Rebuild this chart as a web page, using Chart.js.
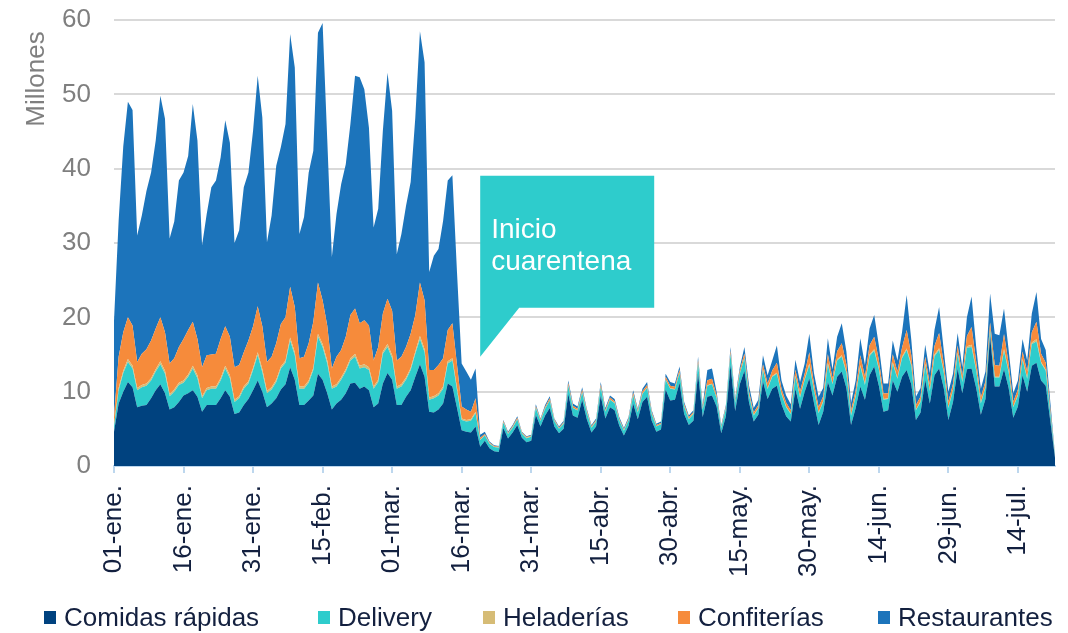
<!DOCTYPE html>
<html>
<head>
<meta charset="utf-8">
<script src="https://cdn.jsdelivr.net/npm/chart.js@4.4.1/dist/chart.umd.min.js"></script>
<style>
  html, body { margin: 0; padding: 0; background: #ffffff; }
  #c { display: block; }
</style>
</head>
<body>
<canvas id="c" width="1068" height="633"></canvas>
<script>
// ---- Data (millones), one value per day from 01-ene. to 22-jul. ----
const seriesNames = ['Comidas rápidas', 'Delivery', 'Heladerías', 'Confiterías', 'Restaurantes'];
const seriesColors = ['#00427f', '#2ecccc', '#d6bc76', '#f68b3b', '#1c74bb'];
const monthAbbr = ['ene.', 'feb.', 'mar.', 'abr.', 'may.', 'jun.', 'jul.'];
const tickEvery = 15;
const yTicks = [0, 10, 20, 30, 40, 50, 60];

const comidasRapidas = [
  4.6, 8.4, 10.0, 11.3, 10.6, 7.9, 8.1, 8.2, 9.1, 10.2,
  11.0, 9.8, 7.6, 7.9, 8.6, 9.5, 9.8, 10.2, 9.3, 7.3,
  8.2, 8.2, 8.2, 9.1, 10.2, 9.3, 7.0, 7.2, 8.2, 9.0,
  10.2, 11.5, 10.0, 7.9, 8.4, 9.1, 10.3, 11.0, 13.3, 11.6,
  8.2, 8.2, 8.8, 9.5, 12.4, 11.6, 9.8, 7.6, 8.4, 8.9,
  9.8, 11.1, 11.2, 10.4, 10.7, 10.2, 7.9, 8.4, 11.1, 12.5,
  11.6, 8.2, 8.2, 9.3, 10.2, 12.0, 13.7, 12.0, 7.3, 7.2,
  7.6, 8.4, 11.1, 10.7, 7.8, 4.8, 4.6, 4.5, 5.3,
  2.6, 3.4, 2.4, 2.0, 1.9, 5.1, 3.7, 4.5, 5.5, 3.8,
  3.2, 3.4, 6.9, 5.3, 6.8, 7.8, 5.3, 4.4, 5.0, 9.7,
  6.8, 6.5, 8.9, 6.3, 4.5, 5.3, 9.5, 6.4, 7.9, 7.5,
  5.4, 4.1, 5.4, 8.4, 6.3, 8.6, 9.3, 6.1, 4.6, 4.9,
  10.3, 8.8, 8.9, 11.2, 7.0, 5.5, 6.1, 12.4, 6.6, 9.3,
  9.5, 8.0, 4.4, 6.7, 13.6, 7.4, 11.0, 12.8, 8.5, 6.0,
  6.9, 11.4, 9.0, 10.4, 10.8, 8.3, 6.7, 6.0, 10.4, 7.7,
  10.0, 11.8, 8.5, 5.5, 7.3, 11.3, 9.5, 12.0, 12.7, 10.5,
  5.5, 7.8, 10.7, 8.9, 12.2, 13.4, 10.8, 7.3, 7.5, 11.5,
  10.0, 12.0, 12.9, 11.0, 6.2, 7.2, 11.6, 8.4, 12.2, 13.1,
  10.5, 6.2, 8.6, 13.1, 9.8, 13.0, 13.1, 10.5, 6.9, 9.0,
  17.5, 10.7, 10.7, 13.0, 10.5, 6.5, 8.0, 12.2, 10.0, 13.5,
  13.9, 11.5, 10.8, 6.0, 1.1
];

const delivery = [
  0.7, 1.8, 2.5, 2.7, 2.5, 2.3, 2.5, 2.6, 2.4, 2.5,
  2.7, 2.6, 1.8, 2.1, 2.3, 1.7, 2.2, 2.9, 2.5, 1.8,
  2.0, 2.2, 2.2, 2.4, 2.9, 2.5, 1.6, 1.9, 2.2, 2.1,
  2.7, 3.4, 2.6, 1.9, 1.9, 2.2, 2.8, 2.9, 3.6, 3.3,
  2.2, 2.2, 2.4, 3.4, 5.0, 4.4, 4.0, 2.8, 2.3, 2.7,
  2.9, 3.1, 3.5, 2.7, 2.6, 2.7, 2.5, 2.9, 4.0, 3.5,
  2.9, 2.2, 2.5, 2.3, 2.7, 3.1, 3.4, 3.3, 1.6, 1.9,
  1.9, 2.0, 2.7, 3.5, 2.4, 1.4, 1.4, 1.6, 1.8,
  0.9, 0.7, 0.6, 0.55, 0.55, 0.75, 0.6, 0.65, 0.75, 0.55,
  0.55, 0.55, 0.9, 0.75, 0.9, 1.0, 0.75, 0.6, 0.7, 1.1,
  1.0, 0.95, 1.0, 0.9, 0.65, 0.7, 1.1, 0.9, 1.0, 0.95,
  0.75, 0.65, 0.75, 1.1, 0.9, 1.1, 1.2, 0.9, 0.7, 0.7,
  1.3, 1.6, 1.4, 1.3, 1.0, 0.8, 0.9, 1.4, 1.0, 1.5,
  1.5, 1.1, 0.7, 1.0, 1.5, 1.1, 1.4, 1.7, 1.0, 0.8,
  0.85, 1.5, 1.35, 1.6, 1.6, 1.35, 1.2, 1.0, 1.65, 1.5,
  1.6, 1.8, 1.7, 1.6, 1.35, 2.4, 1.5, 2.2, 2.0, 2.0,
  1.25, 1.55, 2.7, 2.0, 2.6, 2.1, 2.2, 1.6, 1.5, 2.3,
  1.75, 2.5, 2.7, 2.5, 1.3, 1.4, 2.0, 1.7, 2.55, 2.5,
  2.1, 1.6, 1.6, 2.0, 1.5, 2.9, 2.9, 2.3, 1.5, 1.55,
  0.8, 1.2, 1.2, 2.5, 2.1, 1.4, 1.5, 2.05, 1.75, 2.9,
  2.85, 2.35, 2.0, 1.05, 0.2
];

const heladerias = [
  0.15, 0.3, 0.3, 0.4, 0.4, 0.3, 0.3, 0.3, 0.3, 0.3,
  0.4, 0.4, 0.3, 0.3, 0.3, 0.3, 0.3, 0.4, 0.4, 0.3,
  0.3, 0.3, 0.3, 0.3, 0.4, 0.4, 0.3, 0.3, 0.3, 0.3,
  0.3, 0.4, 0.4, 0.3, 0.3, 0.3, 0.3, 0.3, 0.4, 0.4,
  0.3, 0.3, 0.3, 0.3, 0.4, 0.4, 0.4, 0.3, 0.3, 0.3,
  0.3, 0.3, 0.4, 0.4, 0.4, 0.4, 0.3, 0.3, 0.3, 0.4,
  0.4, 0.3, 0.3, 0.3, 0.3, 0.3, 0.4, 0.4, 0.3, 0.3,
  0.3, 0.3, 0.3, 0.3, 0.3, 0.2, 0.2, 0.2, 0.2,
  0.05, 0.05, 0.05, 0.05, 0.05, 0.05, 0.05, 0.05, 0.05, 0.05,
  0.05, 0.05, 0.05, 0.05, 0.05, 0.05, 0.05, 0.05, 0.05, 0.05,
  0.05, 0.05, 0.05, 0.05, 0.05, 0.05, 0.05, 0.05, 0.05, 0.05,
  0.05, 0.05, 0.05, 0.05, 0.05, 0.05, 0.05, 0.05, 0.05, 0.05,
  0.05, 0.05, 0.05, 0.05, 0.05, 0.05, 0.05, 0.05, 0.05, 0.05,
  0.05, 0.05, 0.05, 0.05, 0.05, 0.05, 0.05, 0.05, 0.05, 0.05,
  0.05, 0.1, 0.1, 0.1, 0.15, 0.1, 0.1, 0.05, 0.1, 0.1,
  0.1, 0.2, 0.1, 0.1, 0.1, 0.15, 0.1, 0.15, 0.2, 0.15,
  0.1, 0.1, 0.2, 0.15, 0.2, 0.2, 0.15, 0.1, 0.1, 0.15,
  0.1, 0.2, 0.2, 0.2, 0.1, 0.1, 0.15, 0.1, 0.2, 0.25,
  0.15, 0.1, 0.1, 0.15, 0.1, 0.2, 0.3, 0.15, 0.1, 0.1,
  0.1, 0.1, 0.1, 0.25, 0.15, 0.1, 0.1, 0.15, 0.1, 0.2,
  0.3, 0.15, 0.15, 0.05, 0.02
];

const confiterias = [
  1.15, 4.2, 5.2, 5.6, 5.4, 3.5, 4.2, 4.6, 5.1, 5.5,
  5.9, 5.2, 4.1, 4.2, 4.8, 5.6, 6.0, 5.9, 4.9, 3.9,
  4.4, 4.3, 4.4, 5.3, 5.3, 5.2, 4.4, 4.2, 4.6, 5.5,
  5.6, 6.2, 5.8, 3.9, 4.1, 4.9, 5.7, 5.8, 6.8, 6.1,
  3.8, 4.0, 5.0, 6.2, 6.9, 5.9, 4.7, 2.4, 3.7, 3.7,
  4.4, 5.8, 6.1, 5.7, 5.9, 5.6, 3.5, 4.4, 5.1, 6.1,
  6.0, 3.5, 3.7, 4.1, 4.6, 4.9, 7.2, 6.6, 3.7, 3.5,
  3.8, 3.8, 4.2, 4.7, 3.1, 1.6, 1.4, 1.0, 1.8,
  0.25, 0.15, 0.1, 0.1, 0.1, 0.15, 0.1, 0.15, 0.2, 0.1,
  0.1, 0.1, 0.2, 0.15, 0.2, 0.25, 0.15, 0.1, 0.15, 0.3,
  0.25, 0.2, 0.3, 0.2, 0.15, 0.15, 0.3, 0.2, 0.25, 0.2,
  0.15, 0.1, 0.15, 0.3, 0.2, 0.3, 0.35, 0.2, 0.15, 0.15,
  0.35, 0.35, 0.3, 0.4, 0.25, 0.2, 0.2, 0.4, 0.25, 0.7,
  0.7, 0.35, 0.15, 0.2, 0.4, 0.25, 0.4, 0.6, 0.45, 0.35,
  0.4, 0.7, 0.65, 0.75, 1.35, 0.65, 0.55, 0.45, 0.8, 0.75,
  0.75, 1.5, 0.8, 0.75, 0.65, 1.2, 0.7, 1.1, 1.6, 1.0,
  0.6, 0.75, 1.3, 0.95, 1.25, 1.7, 1.1, 0.75, 0.7, 1.1,
  0.85, 1.2, 2.5, 1.2, 0.6, 0.65, 0.95, 0.8, 1.2, 2.05,
  1.05, 0.75, 0.75, 0.95, 0.7, 1.4, 2.4, 1.1, 0.7, 0.75,
  0.9, 1.6, 1.5, 2.0, 1.05, 0.65, 0.7, 1.0, 0.85, 1.4,
  2.35, 1.1, 0.95, 0.5, 0.08
];

const restaurantes = [
  12.9, 18.3, 25.0, 29.0, 29.0, 17.0, 18.6, 21.3, 22.6, 25.3,
  29.8, 28.7, 16.8, 18.4, 22.4, 22.4, 23.4, 29.3, 26.7, 16.4,
  19.0, 22.5, 23.3, 24.4, 27.7, 26.1, 16.7, 18.1, 22.2, 22.6,
  26.3, 31.0, 28.1, 16.1, 19.0, 23.9, 23.8, 26.0, 34.0, 32.2,
  16.7, 18.8, 23.0, 23.0, 33.6, 37.3, 25.1, 15.0, 19.2, 22.3,
  23.2, 25.7, 31.3, 33.1, 31.1, 26.6, 17.9, 18.6, 24.6, 30.4,
  26.9, 14.3, 16.5, 19.0, 20.4, 26.6, 33.8, 32.0, 13.2, 15.4,
  15.6, 18.5, 20.1, 19.9, 12.4, 5.8, 5.1, 4.3, 4.0,
  0.4, 0.3, 0.15, 0.1, 0.1, 0.15, 0.15, 0.15, 0.2, 0.1,
  0.1, 0.1, 0.25, 0.15, 0.25, 0.3, 0.15, 0.15, 0.2, 0.35,
  0.3, 0.3, 0.35, 0.25, 0.15, 0.2, 0.35, 0.25, 0.3, 0.3,
  0.25, 0.2, 0.25, 0.35, 0.25, 0.35, 0.4, 0.25, 0.2, 0.2,
  0.4, 0.5, 0.45, 0.45, 0.3, 0.25, 0.25, 0.45, 0.3, 1.35,
  1.35, 0.5, 0.2, 0.25, 0.45, 0.3, 0.45, 0.85, 0.8, 0.6,
  0.7, 1.2, 1.1, 1.35, 2.3, 1.1, 0.95, 0.8, 1.35, 1.25,
  1.35, 2.5, 1.4, 1.35, 1.1, 2.15, 1.2, 1.95, 2.7, 1.75,
  1.05, 1.3, 2.3, 1.6, 2.25, 2.9, 1.95, 1.35, 1.3, 1.85,
  1.5, 2.1, 4.7, 2.1, 1.1, 1.15, 1.6, 1.5, 2.15, 3.5,
  1.8, 1.35, 1.35, 1.7, 1.2, 2.5, 4.1, 1.95, 1.2, 1.3,
  3.9, 4.2, 4.1, 3.45, 1.8, 1.15, 1.2, 1.7, 1.5, 2.5,
  4.0, 2.0, 1.7, 0.9, 0.1
];

// Category labels: one per day (dd-mmm.)
const categories = [];
for (let i = 0; i < comidasRapidas.length; i++) {
  const d = new Date(2020, 0, 1 + i);
  categories.push(String(d.getDate()).padStart(2, '0') + '-' + monthAbbr[d.getMonth()]);
}

const FONT = "'Liberation Sans', Arial, Helvetica, sans-serif";
const seriesData = [comidasRapidas, delivery, heladerias, confiterias, restaurantes];

const datasets = seriesData.map((arr, i) => ({
  label: seriesNames[i],
  data: arr,
  backgroundColor: seriesColors[i],
  borderColor: 'rgba(0,0,0,0)',
  borderWidth: 1,
  pointRadius: 0,
  pointHoverRadius: 0,
  tension: 0,
  fill: i === 0 ? 'origin' : '-1'
}));

// Y-axis title
const yTitlePlugin = {
  id: 'yTitle',
  afterDraw(chart) {
    const ctx = chart.ctx;
    ctx.save();
    ctx.translate(37, 79);
    ctx.rotate(-Math.PI / 2);
    ctx.font = '26px ' + FONT;
    ctx.fillStyle = '#7f7f7f';
    ctx.textAlign = 'center';
    ctx.textBaseline = 'middle';
    ctx.fillText('Millones', 0, 0);
    ctx.restore();
  }
};

// Callout "Inicio cuarentena"
const calloutPlugin = {
  id: 'callout',
  afterDatasetsDraw(chart) {
    const ctx = chart.ctx;
    const xs = chart.scales.x, ys = chart.scales.y;
    const tx = xs.getPixelForValue(79);
    const ty = ys.getPixelForValue(14.7);
    ctx.save();
    ctx.fillStyle = '#2ecccc';
    ctx.beginPath();
    ctx.moveTo(tx, ty - 181);
    ctx.lineTo(tx + 174, ty - 181);
    ctx.lineTo(tx + 174, ty - 49);
    ctx.lineTo(tx + 39, ty - 49);
    ctx.lineTo(tx, ty);
    ctx.closePath();
    ctx.fill();
    ctx.fillStyle = '#ffffff';
    ctx.font = '28px ' + FONT;
    ctx.textAlign = 'left';
    ctx.textBaseline = 'alphabetic';
    ctx.fillText('Inicio', tx + 11, ty - 119);
    ctx.fillText('cuarentena', tx + 11, ty - 87);
    ctx.restore();
  }
};

// Legend drawn at the bottom
const legendX = [44, 318, 483, 678, 878];
const legendPlugin = {
  id: 'bottomLegend',
  afterDraw(chart) {
    const ctx = chart.ctx;
    ctx.save();
    ctx.font = '26px ' + FONT;
    ctx.textAlign = 'left';
    ctx.textBaseline = 'alphabetic';
    seriesNames.forEach((name, i) => {
      const x = legendX[i];
      ctx.fillStyle = seriesColors[i];
      ctx.fillRect(x, 611, 12, 13);
      ctx.fillStyle = '#13203f';
      ctx.fillText(name, x + 20, 626);
    });
    ctx.restore();
  }
};

const zeroPad = (s) => { s.paddingLeft = 0; s.paddingRight = 0; s.paddingTop = 0; s.paddingBottom = 0; };

new Chart(document.getElementById('c'), {
  type: 'line',
  data: { labels: categories, datasets },
  options: {
    responsive: false,
    animation: false,
    devicePixelRatio: 1,
    layout: { padding: { top: 20, right: 13, bottom: 47, left: 0 } },
    plugins: {
      legend: { display: false },
      tooltip: { enabled: false },
      filler: { propagate: false }
    },
    interaction: { mode: null },
    scales: {
      x: {
        type: 'category',
        offset: false,
        grid: {
          display: true,
          drawOnChartArea: false,
          drawTicks: true,
          tickLength: 7,
          lineWidth: 2,
          color: (c) => (c.index % tickEvery === 0 ? '#bdd7ee' : 'rgba(0,0,0,0)')
        },
        border: { display: true, color: '#bdd7ee', width: 2 },
        ticks: {
          autoSkip: false,
          minRotation: 90,
          maxRotation: 90,
          padding: 12,
          color: '#13203f',
          font: { family: FONT, size: 26 },
          callback: function (value, index) {
            return index % tickEvery === 0 ? this.getLabelForValue(value) : '';
          }
        },
        afterFit: (s) => { s.height = 120; zeroPad(s); }
      },
      y: {
        stacked: true,
        min: yTicks[0],
        max: yTicks[yTicks.length - 1],
        grid: { color: '#d9d9d9', lineWidth: 2, drawTicks: false },
        border: { display: false },
        ticks: {
          stepSize: 10,
          padding: 23,
          color: '#7f7f7f',
          font: { family: FONT, size: 26 }
        },
        afterFit: (s) => { s.width = 114; zeroPad(s); }
      }
    }
  },
  plugins: [yTitlePlugin, calloutPlugin, legendPlugin]
});
</script>
</body>
</html>
